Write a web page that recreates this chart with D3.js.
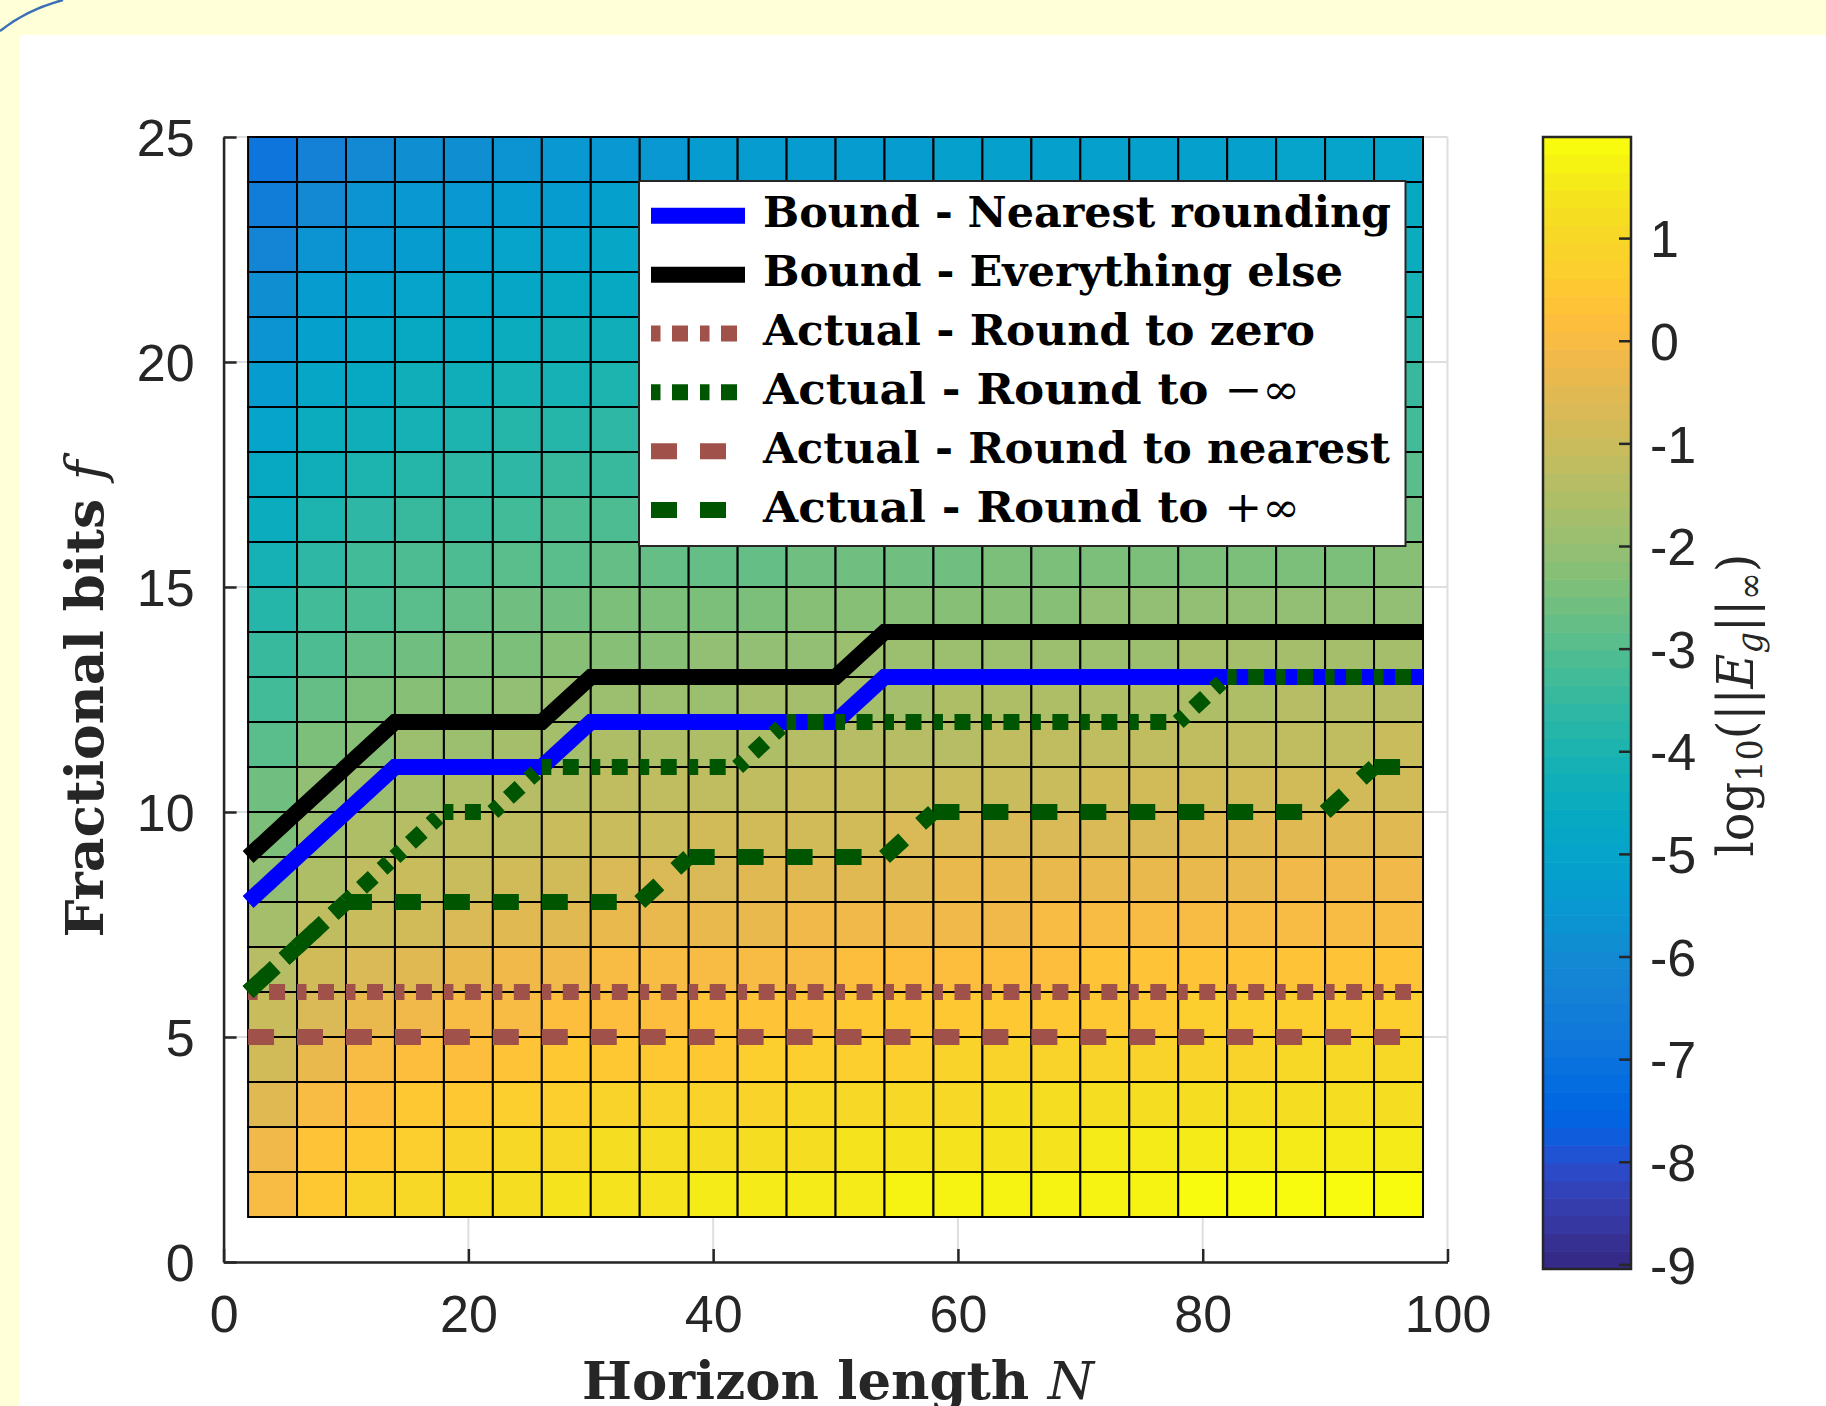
<!DOCTYPE html>
<html>
<head>
<meta charset="utf-8">
<script src="https://cdn.jsdelivr.net/npm/d3@7"></script>
<style>
body { margin: 0; background: #ffffd8; }
svg { display: block; }
</style>
</head>
<body>
<div id="svgWrapper"></div>
<script>
"use strict"
// data
const horizonEdges = [2,6,10,14,18,22,26,30,34,38,42,46,50,54,58,62,66,70,74,78,82,86,90,94,98];
const bitEdges = [1,2,3,4,5,6,7,8,9,10,11,12,13,14,15,16,17,18,19,20,21,22,23,24,25];
// log10(||E_g||), one row per fractional-bit band, bottom (f=1) first
const errorLog = [
  [0.09,0.60,0.86,1.04,1.14,1.28,1.34,1.44,1.46,1.50,1.53,1.60,1.64,1.67,1.70,1.73,1.76,1.78,1.80,1.82,1.84,1.86,1.88,1.90],
  [-0.21,0.30,0.56,0.74,0.84,0.98,1.04,1.14,1.16,1.20,1.23,1.30,1.34,1.37,1.40,1.43,1.46,1.48,1.50,1.52,1.54,1.56,1.58,1.60],
  [-0.51,0.00,0.26,0.44,0.54,0.68,0.74,0.84,0.86,0.90,0.93,1.00,1.04,1.07,1.10,1.13,1.16,1.18,1.20,1.22,1.24,1.26,1.28,1.30],
  [-0.81,-0.30,-0.04,0.14,0.24,0.38,0.44,0.54,0.56,0.60,0.63,0.70,0.74,0.77,0.80,0.83,0.86,0.88,0.90,0.92,0.94,0.96,0.98,1.00],
  [-1.11,-0.60,-0.34,-0.16,-0.06,0.08,0.14,0.24,0.26,0.30,0.33,0.40,0.44,0.47,0.50,0.53,0.56,0.58,0.60,0.62,0.64,0.66,0.68,0.70],
  [-1.42,-0.91,-0.65,-0.47,-0.37,-0.23,-0.17,-0.07,-0.05,-0.01,0.02,0.09,0.13,0.16,0.19,0.22,0.25,0.27,0.29,0.31,0.33,0.35,0.37,0.39],
  [-1.72,-1.21,-0.95,-0.77,-0.67,-0.53,-0.47,-0.37,-0.35,-0.31,-0.28,-0.21,-0.17,-0.14,-0.11,-0.08,-0.05,-0.03,-0.01,0.01,0.03,0.05,0.07,0.09],
  [-2.02,-1.51,-1.25,-1.07,-0.97,-0.83,-0.77,-0.67,-0.65,-0.61,-0.58,-0.51,-0.47,-0.44,-0.41,-0.38,-0.35,-0.33,-0.31,-0.29,-0.27,-0.25,-0.23,-0.21],
  [-2.32,-1.81,-1.55,-1.37,-1.27,-1.13,-1.07,-0.97,-0.95,-0.91,-0.88,-0.81,-0.77,-0.74,-0.71,-0.68,-0.65,-0.63,-0.61,-0.59,-0.57,-0.55,-0.53,-0.51],
  [-2.62,-2.11,-1.85,-1.67,-1.57,-1.43,-1.37,-1.27,-1.25,-1.21,-1.18,-1.11,-1.07,-1.04,-1.01,-0.98,-0.95,-0.93,-0.91,-0.89,-0.87,-0.85,-0.83,-0.81],
  [-2.92,-2.41,-2.15,-1.97,-1.87,-1.73,-1.67,-1.57,-1.55,-1.51,-1.48,-1.41,-1.37,-1.34,-1.31,-1.28,-1.25,-1.23,-1.21,-1.19,-1.17,-1.15,-1.13,-1.11],
  [-3.22,-2.71,-2.45,-2.27,-2.17,-2.03,-1.97,-1.87,-1.85,-1.81,-1.78,-1.71,-1.67,-1.64,-1.61,-1.58,-1.55,-1.53,-1.51,-1.49,-1.47,-1.45,-1.43,-1.41],
  [-3.52,-3.01,-2.75,-2.57,-2.47,-2.33,-2.27,-2.17,-2.15,-2.11,-2.08,-2.01,-1.97,-1.94,-1.91,-1.88,-1.85,-1.83,-1.81,-1.79,-1.77,-1.75,-1.73,-1.71],
  [-3.82,-3.31,-3.05,-2.87,-2.77,-2.63,-2.57,-2.47,-2.45,-2.41,-2.38,-2.31,-2.27,-2.24,-2.21,-2.18,-2.15,-2.13,-2.11,-2.09,-2.07,-2.05,-2.03,-2.01],
  [-4.12,-3.61,-3.35,-3.17,-3.07,-2.93,-2.87,-2.77,-2.75,-2.71,-2.68,-2.61,-2.57,-2.54,-2.51,-2.48,-2.45,-2.43,-2.41,-2.39,-2.37,-2.35,-2.33,-2.31],
  [-4.43,-3.92,-3.66,-3.48,-3.38,-3.24,-3.18,-3.08,-3.06,-3.02,-2.99,-2.92,-2.88,-2.85,-2.82,-2.79,-2.76,-2.74,-2.72,-2.70,-2.68,-2.66,-2.64,-2.62],
  [-4.73,-4.22,-3.96,-3.78,-3.68,-3.54,-3.48,-3.38,-3.36,-3.32,-3.29,-3.22,-3.18,-3.15,-3.12,-3.09,-3.06,-3.04,-3.02,-3.00,-2.98,-2.96,-2.94,-2.92],
  [-5.03,-4.52,-4.26,-4.08,-3.98,-3.84,-3.78,-3.68,-3.66,-3.62,-3.59,-3.52,-3.48,-3.45,-3.42,-3.39,-3.36,-3.34,-3.32,-3.30,-3.28,-3.26,-3.24,-3.22],
  [-5.33,-4.82,-4.56,-4.38,-4.28,-4.14,-4.08,-3.98,-3.96,-3.92,-3.89,-3.82,-3.78,-3.75,-3.72,-3.69,-3.66,-3.64,-3.62,-3.60,-3.58,-3.56,-3.54,-3.52],
  [-5.63,-5.12,-4.86,-4.68,-4.58,-4.44,-4.38,-4.28,-4.26,-4.22,-4.19,-4.12,-4.08,-4.05,-4.02,-3.99,-3.96,-3.94,-3.92,-3.90,-3.88,-3.86,-3.84,-3.82],
  [-5.93,-5.42,-5.16,-4.98,-4.88,-4.74,-4.68,-4.58,-4.56,-4.52,-4.49,-4.42,-4.38,-4.35,-4.32,-4.29,-4.26,-4.24,-4.22,-4.20,-4.18,-4.16,-4.14,-4.12],
  [-6.23,-5.72,-5.46,-5.28,-5.18,-5.04,-4.98,-4.88,-4.86,-4.82,-4.79,-4.72,-4.68,-4.65,-4.62,-4.59,-4.56,-4.54,-4.52,-4.50,-4.48,-4.46,-4.44,-4.42],
  [-6.53,-6.02,-5.76,-5.58,-5.48,-5.34,-5.28,-5.18,-5.16,-5.12,-5.09,-5.02,-4.98,-4.95,-4.92,-4.89,-4.86,-4.84,-4.82,-4.80,-4.78,-4.76,-4.74,-4.72],
  [-6.83,-6.32,-6.06,-5.88,-5.78,-5.64,-5.58,-5.48,-5.46,-5.42,-5.39,-5.32,-5.28,-5.25,-5.22,-5.19,-5.16,-5.14,-5.12,-5.10,-5.08,-5.06,-5.04,-5.02]
];
const colorLimits = [-9.04, 1.99];

const horizonN = [2,6,10,14,18,22,26,30,34,38,42,46,50,54,58,62,66,70,74,78,82,86,90,94,98];
const boundNearest = [8,9,10,11,11,11,11,12,12,12,12,12,12,13,13,13,13,13,13,13,13,13,13,13,13];
const boundElse = [9,10,11,12,12,12,12,13,13,13,13,13,13,14,14,14,14,14,14,14,14,14,14,14,14];
const roundZero = [6,6,6,6,6,6,6,6,6,6,6,6,6,6,6,6,6,6,6,6,6,6,6,6,6];
const roundMinusInf = [6,7,8,9,10,10,11,11,11,11,11,12,12,12,12,12,12,12,12,12,13,13,13,13,13];
const roundNearest = [5,5,5,5,5,5,5,5,5,5,5,5,5,5,5,5,5,5,5,5,5,5,5,5,5];
const roundPlusInf = [6,7,8,8,8,8,8,8,8,9,9,9,9,9,10,10,10,10,10,10,10,10,10,11,11];

const legendLabels = ["Bound - Nearest rounding", "Bound - Everything else", "Actual - Round to zero",
                      "Actual - Round to ", "Actual - Round to nearest", "Actual - Round to "];
const legendMath = ["", "", "", "\u2212\u221E", "", "+\u221E"];

const xTicks = [0,20,40,60,80,100];
const yTicks = [0,5,10,15,20,25];
const colorTicks = [-9,-8,-7,-6,-5,-4,-3,-2,-1,0,1];

const parula = ["#352A87","#363093","#3637A0","#353DAD","#3243BA","#2C4AC7","#2053D4","#0F5CDD",
  "#0363E1","#0268E1","#046DE0","#0871DE","#0D75DC","#1079DA","#127DD8","#1481D6",
  "#1485D4","#1389D3","#108ED2","#0C93D2","#0998D1","#079CCF","#06A0CD","#06A4CA",
  "#06A7C6","#07A9C2","#0AACBE","#0FAEB9","#15B1B4","#1DB3AF","#25B5A9","#2EB7A4",
  "#38B99E","#42BB98","#4DBC92","#59BD8C","#65BE86","#71BF80","#7CBF7B","#87BF77",
  "#92BF73","#9CBF6F","#A5BE6B","#AEBE67","#B7BD64","#C0BC60","#C8BC5D","#D1BB59",
  "#D9BA56","#E1B952","#E9B94E","#F1B94A","#F8BB44","#FDBE3D","#FFC337","#FEC832",
  "#FCCE2E","#FAD32A","#F7D826","#F5DE21","#F5E41D","#F5EB18","#F6F313","#F9FB0E"];

// styles
const seriesStyle = [
  {color: "#0000ff", dash: null},
  {color: "#000000", dash: null},
  {color: "#a0524a", dash: "9.5 11.5 16 12"},
  {color: "#005500", dash: "9.5 11.5 16 12"},
  {color: "#a0524a", dash: "26 23"},
  {color: "#005500", dash: "26 23"}
];
const legendWidths = [628, 580, 552, 537, 627, 537];

function drawChart() {
    var fullWidth = 1826;
    var fullHeight = 1406;
    var svg = d3.select("#svgWrapper").append("svg")
        .attr("width", fullWidth).attr("height", fullHeight);

    // page frame
    svg.append("rect").attr("width", fullWidth).attr("height", fullHeight).attr("fill", "#ffffd8");
    svg.append("rect").attr("x", 20).attr("y", 35).attr("width", fullWidth - 20).attr("height", fullHeight - 35).attr("fill", "white");
    svg.append("path").attr("d", "M0,31 Q26,10 63,0").attr("fill", "none").attr("stroke", "#3b6fb6").attr("stroke-width", 2.5);

    var xScale = d3.scaleLinear().domain([0, 100]).range([223.6, 1447.5]);
    var yScale = d3.scaleLinear().domain([0, 25]).range([1262, 137]);
    var colorScale = d3.scaleQuantize().domain(colorLimits).range(parula);

    // light grid
    var grid = svg.append("g").attr("stroke", "#dedede").attr("stroke-width", 2);
    grid.selectAll(".gx").data(xTicks).enter().append("line")
        .attr("x1", d => xScale(d)).attr("x2", d => xScale(d))
        .attr("y1", yScale(0)).attr("y2", yScale(25));
    grid.selectAll(".gy").data(yTicks).enter().append("line")
        .attr("y1", d => yScale(d)).attr("y2", d => yScale(d))
        .attr("x1", xScale(0)).attr("x2", xScale(100));

    // pcolor cells
    var cells = [];
    for (let r = 0; r < errorLog.length; r++) {
        for (let c = 0; c < errorLog[r].length; c++) {
            cells.push({r: r, c: c, v: errorLog[r][c]});
        }
    }
    svg.append("g").selectAll("rect").data(cells).enter().append("rect")
        .attr("x", d => xScale(horizonEdges[d.c]))
        .attr("y", d => yScale(bitEdges[d.r + 1]))
        .attr("width", d => xScale(horizonEdges[d.c + 1]) - xScale(horizonEdges[d.c]))
        .attr("height", d => yScale(bitEdges[d.r]) - yScale(bitEdges[d.r + 1]))
        .attr("fill", d => colorScale(d.v))
        .attr("stroke", "black").attr("stroke-width", 2);

    // axes
    var xAxis = d3.axisBottom(xScale).tickValues(xTicks).tickSizeInner(-13).tickSizeOuter(0).tickPadding(33);
    var yAxis = d3.axisLeft(yScale).tickValues(yTicks).tickSizeInner(-13).tickSizeOuter(0).tickPadding(29);
    var gx = svg.append("g").attr("transform", "translate(0," + yScale(0) + ")").call(xAxis);
    var gy = svg.append("g").attr("transform", "translate(" + xScale(0) + ",0)").call(yAxis);
    [gx, gy].forEach(function(g) {
        g.select(".domain").attr("stroke", "#262626").attr("stroke-width", 2.5);
        g.selectAll(".tick line").attr("stroke", "#262626").attr("stroke-width", 2.5);
        g.selectAll(".tick text").attr("fill", "#262626")
            .style("font-family", "'Liberation Sans', Arial, sans-serif").style("font-size", "52px");
    });
    gy.selectAll(".tick text").attr("dy", "0.36em");

    // lines
    var lineGen = d3.line().x(d => xScale(d[0])).y(d => yScale(d[1]));
    var allSeries = [boundNearest, boundElse, roundZero, roundMinusInf, roundNearest, roundPlusInf];
    var linesG = svg.append("g").attr("fill", "none");
    allSeries.forEach(function(series, i) {
        var pts = horizonN.map((n, k) => [n, series[k]]);
        var st = seriesStyle[i];
        if (st.dash === null) {
            linesG.append("path").attr("d", lineGen(pts))
                .attr("stroke", st.color).attr("stroke-width", 16).attr("stroke-linejoin", "miter");
        } else {
            // MATLAB restarts the dash pattern on every segment
            linesG.append("g").selectAll("path").data(d3.pairs(pts)).enter().append("path")
                .attr("d", d => lineGen(d))
                .attr("stroke", st.color).attr("stroke-width", 16)
                .attr("stroke-dasharray", st.dash).attr("stroke-linecap", "butt");
        }
    });

    // legend
    var legend = svg.append("g");
    legend.append("rect").attr("x", 639).attr("y", 181).attr("width", 766.5).attr("height", 365)
        .attr("fill", "white").attr("stroke", "#262626").attr("stroke-width", 2);
    legendLabels.forEach(function(label, i) {
        var base = 227.3 + i * 58.85;
        var st = seriesStyle[i];
        legend.append("line").attr("x1", 651).attr("x2", 745)
            .attr("y1", base - 11.5).attr("y2", base - 11.5)
            .attr("stroke", st.color).attr("stroke-width", 16)
            .attr("stroke-dasharray", st.dash).attr("stroke-linecap", "butt");
        var t = legend.append("text").attr("x", 763).attr("y", base)
            .style("font-family", "'DejaVu Serif', serif").style("font-size", "42px")
            .style("font-weight", "bold").attr("fill", "black")
            .attr("textLength", legendWidths[i]).attr("lengthAdjust", "spacingAndGlyphs");
        t.append("tspan").text(label);
        if (legendMath[i] !== "") {
            t.append("tspan").style("font-weight", "normal").text(legendMath[i]);
        }
    });

    // colorbar
    var cbX = 1543, cbW = 88;
    var cbScale = d3.scaleLinear().domain(colorLimits).range([1269, 137]);
    var step = (colorLimits[1] - colorLimits[0]) / parula.length;
    var cb = svg.append("g");
    cb.selectAll("rect.band").data(parula).enter().append("rect")
        .attr("x", cbX).attr("width", cbW)
        .attr("y", (d, i) => cbScale(colorLimits[0] + (i + 1) * step))
        .attr("height", (d, i) => cbScale(colorLimits[0] + i * step) - cbScale(colorLimits[0] + (i + 1) * step) + 0.6)
        .attr("fill", d => d);
    cb.append("rect").attr("x", cbX).attr("y", cbScale(colorLimits[1])).attr("width", cbW)
        .attr("height", cbScale(colorLimits[0]) - cbScale(colorLimits[1]))
        .attr("fill", "none").attr("stroke", "#262626").attr("stroke-width", 2.5);
    cb.selectAll("line.tick").data(colorTicks).enter().append("line")
        .attr("x1", cbX + cbW - 12).attr("x2", cbX + cbW)
        .attr("y1", d => cbScale(d)).attr("y2", d => cbScale(d))
        .attr("stroke", "#262626").attr("stroke-width", 2.5);
    cb.selectAll("text.tick").data(colorTicks).enter().append("text")
        .attr("x", 1650).attr("y", d => cbScale(d)).attr("dy", "0.36em")
        .attr("fill", "#262626")
        .style("font-family", "'Liberation Sans', Arial, sans-serif").style("font-size", "52px")
        .text(d => d);

    // axis labels
    var xl = svg.append("text").attr("x", 838).attr("y", 1399).attr("text-anchor", "middle")
        .attr("fill", "#262626").style("font-family", "'DejaVu Serif', serif").style("font-size", "52px")
        .style("font-weight", "bold").attr("textLength", 512).attr("lengthAdjust", "spacingAndGlyphs");
    xl.append("tspan").text("Horizon length ");
    xl.append("tspan").style("font-weight", "normal").style("font-style", "italic").text("N");

    var yl = svg.append("text").attr("transform", "translate(103,699) rotate(-90)").attr("text-anchor", "middle")
        .attr("fill", "#262626").style("font-family", "'DejaVu Serif', serif").style("font-size", "52px")
        .style("font-weight", "bold").attr("textLength", 477).attr("lengthAdjust", "spacingAndGlyphs");
    yl.append("tspan").text("Fractional bits ");
    yl.append("tspan").style("font-weight", "normal").style("font-style", "italic").text("f");

    var cl = svg.append("text").attr("transform", "translate(1753,705) rotate(-90)").attr("text-anchor", "middle")
        .attr("fill", "#262626").style("font-family", "'DejaVu Serif', serif").style("font-size", "50px")
        .attr("textLength", 303).attr("lengthAdjust", "spacingAndGlyphs");
    cl.append("tspan").text("log");
    cl.append("tspan").attr("baseline-shift", "-25%").style("font-size", "35px").text("10");
    cl.append("tspan").text("(||");
    cl.append("tspan").style("font-style", "italic").text("E");
    cl.append("tspan").attr("baseline-shift", "-25%").style("font-size", "35px").style("font-style", "italic").text("g");
    cl.append("tspan").text("||");
    cl.append("tspan").attr("baseline-shift", "-25%").style("font-size", "35px").text("\u221E");
    cl.append("tspan").text(")");
}

window.onload = drawChart;
</script>
</body>
</html>
